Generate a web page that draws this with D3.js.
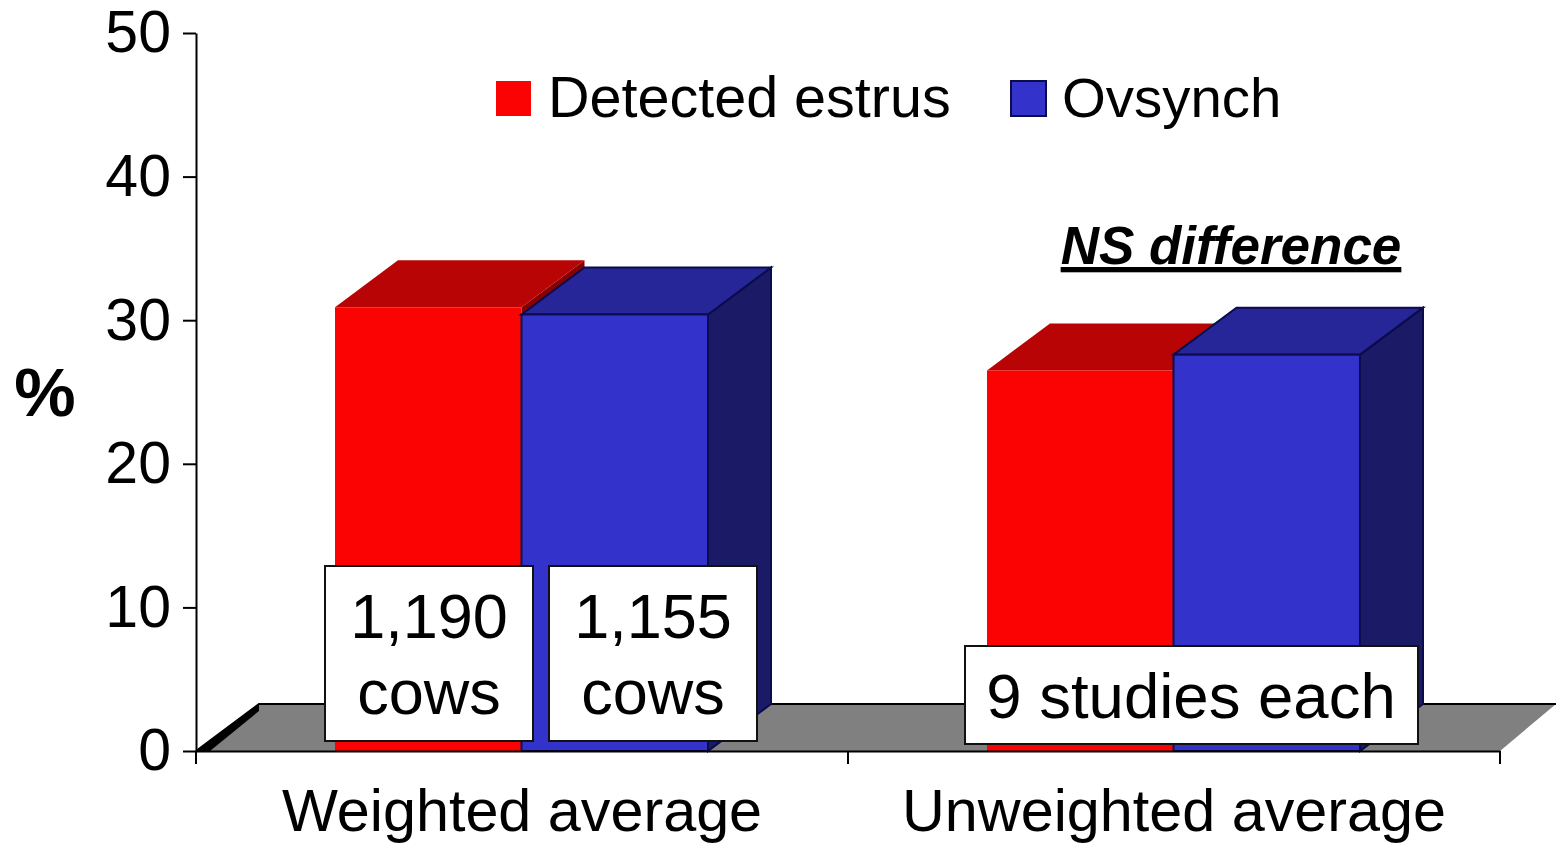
<!DOCTYPE html>
<html lang="en">
<head>
  <meta charset="UTF-8">
  <title>Detected estrus vs Ovsynch</title>
  <style>
    html, body { margin: 0; padding: 0; background: #fff; }
    svg { display: block; }
    text { font-family: "Liberation Sans", Arial, sans-serif; fill: #000; }
    .axis path, .axis line { stroke: #000; stroke-width: 2; }
    .axis text { font-family: "Liberation Sans", Arial, sans-serif; fill: #000; }
  </style>
</head>
<body>
  <svg width="1556" height="845"></svg>
  <script src="https://cdn.jsdelivr.net/npm/d3@7"></script>
  <script>
    var categories = ['Weighted average', 'Unweighted average']
    var seriesNames = ['Detected estrus', 'Ovsynch']
    var estrusValues = [30.9, 26.5]
    var ovsynchValues = [30.4, 27.6]
    var yTicks = [0, 10, 20, 30, 40, 50]
    var cowLabels = [['1,190', 'cows'], ['1,155', 'cows']]
    var studyLabel = '9 studies each'
    var nsLabel = 'NS difference'

    var svg = d3.select('svg')
    var plotLeft = 196, plotRight = 1500, plotTop = 33, plotBottom = 751
    var depthX = 63, depthY = 47

    var y = d3.scaleLinear().domain([0, 50]).range([plotBottom, plotTop])
    var x = d3.scaleBand().domain(categories).range([plotLeft, plotRight])
    var inner = d3.scaleBand().domain(seriesNames).range([139, 512])

    var faces = {
      'Detected estrus': { front: '#fb0303', top: '#b80404', side: '#8a0000', stroke: 'none' },
      'Ovsynch': { front: '#3333cc', top: '#262699', side: '#1a1a66', stroke: '#0b0b4d' }
    }

    // floor
    svg.append('path')
      .attr('d', 'M' + plotLeft + ',' + plotBottom + 'L' + (plotLeft + depthX) + ',' + (plotBottom - depthY) +
        'L1556,' + (plotBottom - depthY) + 'L' + plotRight + ',' + plotBottom + 'Z')
      .attr('fill', '#808080')
    svg.append('path')
      .attr('d', 'M' + plotLeft + ',' + plotBottom + 'L' + (plotLeft + depthX) + ',' + (plotBottom - depthY) + 'L1556,' + (plotBottom - depthY))
      .attr('fill', 'none').attr('stroke', '#000').attr('stroke-width', 2)
    svg.append('path')
      .attr('d', 'M' + plotLeft + ',' + plotBottom + 'L' + (plotLeft + depthX) + ',' + (plotBottom - depthY) +
        'L' + (plotLeft + depthX) + ',' + (plotBottom - depthY + 7) + 'L' + (plotLeft + 14) + ',' + plotBottom + 'Z')
      .attr('fill', '#000')

    var rows = []
    categories.forEach(function(c, i) {
      rows.push({ cat: c, name: seriesNames[0], value: estrusValues[i] })
      rows.push({ cat: c, name: seriesNames[1], value: ovsynchValues[i] })
    })

    var bars = svg.selectAll('.bar').data(rows).enter().append('g').attr('class', 'bar')

    function barBox(d) {
      var x0 = x(d.cat) + inner(d.name)
      return { x0: x0, x1: x0 + inner.bandwidth(), y0: y(d.value), y1: y(0) }
    }

    bars.append('path')
      .attr('d', function(d) {
        var b = barBox(d)
        return 'M' + b.x1 + ',' + b.y1 + 'L' + b.x1 + ',' + b.y0 + 'L' + (b.x1 + depthX) + ',' + (b.y0 - depthY) +
          'L' + (b.x1 + depthX) + ',' + (b.y1 - depthY) + 'Z'
      })
      .attr('fill', function(d) { return faces[d.name].side })
      .attr('stroke', function(d) { return faces[d.name].stroke })
      .attr('stroke-width', 2)
    bars.append('path')
      .attr('d', function(d) {
        var b = barBox(d)
        return 'M' + b.x0 + ',' + b.y0 + 'L' + (b.x0 + depthX) + ',' + (b.y0 - depthY) +
          'L' + (b.x1 + depthX) + ',' + (b.y0 - depthY) + 'L' + b.x1 + ',' + b.y0 + 'Z'
      })
      .attr('fill', function(d) { return faces[d.name].top })
      .attr('stroke', function(d) { return faces[d.name].stroke })
      .attr('stroke-width', 2)
    bars.append('rect')
      .attr('x', function(d) { return barBox(d).x0 })
      .attr('y', function(d) { return barBox(d).y0 })
      .attr('width', inner.bandwidth())
      .attr('height', function(d) { return y(0) - y(d.value) })
      .attr('fill', function(d) { return faces[d.name].front })
      .attr('stroke', function(d) { return faces[d.name].stroke })
      .attr('stroke-width', 2)

    // axes
    var yAxis = svg.append('g').attr('class', 'axis')
      .attr('transform', 'translate(' + plotLeft + ',0)')
      .call(d3.axisLeft(y).tickValues(yTicks).tickSize(13).tickSizeOuter(0).tickPadding(12))
    yAxis.selectAll('text').attr('font-size', 59).attr('dy', '0.32em')

    var xAxis = svg.append('g').attr('class', 'axis')
      .attr('transform', 'translate(0,' + plotBottom + ')')
      .call(d3.axisBottom(x).tickSize(0).tickPadding(38))
    xAxis.selectAll('text').attr('font-size', 59.3).attr('dy', '0.71em')
    xAxis.selectAll('.bound').data(d3.range(categories.length + 1)).enter().append('line')
      .attr('class', 'bound')
      .attr('x1', function(i) { return plotLeft + i * x.step() })
      .attr('x2', function(i) { return plotLeft + i * x.step() })
      .attr('y1', 0).attr('y2', 13)

    svg.append('text').attr('x', 45).attr('y', 416)
      .attr('text-anchor', 'middle').attr('font-size', 69).attr('font-weight', 'bold').text('%')

    // legend
    var legendX = [496, 1011], legendTextX = [548, 1062], legendSize = [57.5, 56.4]
    seriesNames.forEach(function(name, i) {
      svg.append('rect').attr('x', legendX[i]).attr('y', 81).attr('width', 35).attr('height', 35)
        .attr('fill', faces[name].front).attr('stroke', faces[name].stroke).attr('stroke-width', 2)
      svg.append('text').attr('x', legendTextX[i]).attr('y', 117).attr('font-size', legendSize[i]).text(name)
    })

    svg.append('text').attr('x', 1231).attr('y', 264)
      .attr('text-anchor', 'middle').attr('font-size', 53).attr('font-weight', 'bold').attr('font-style', 'italic')
      .attr('text-decoration', 'underline').text(nsLabel)

    // annotation boxes
    var cowBoxX = [325, 549]
    cowLabels.forEach(function(lines, i) {
      svg.append('rect').attr('x', cowBoxX[i]).attr('y', 566).attr('width', 208).attr('height', 175)
        .attr('fill', '#fff').attr('stroke', '#111').attr('stroke-width', 2)
      svg.append('text').attr('x', cowBoxX[i] + 104).attr('y', 638)
        .attr('text-anchor', 'middle').attr('font-size', 63).text(lines[0])
      svg.append('text').attr('x', cowBoxX[i] + 104).attr('y', 714)
        .attr('text-anchor', 'middle').attr('font-size', 63).text(lines[1])
    })
    svg.append('rect').attr('x', 965).attr('y', 646).attr('width', 453).attr('height', 98)
      .attr('fill', '#fff').attr('stroke', '#111').attr('stroke-width', 2)
    svg.append('text').attr('x', 1191).attr('y', 718)
      .attr('text-anchor', 'middle').attr('font-size', 63.5).text(studyLabel)
  </script>
</body>
</html>
